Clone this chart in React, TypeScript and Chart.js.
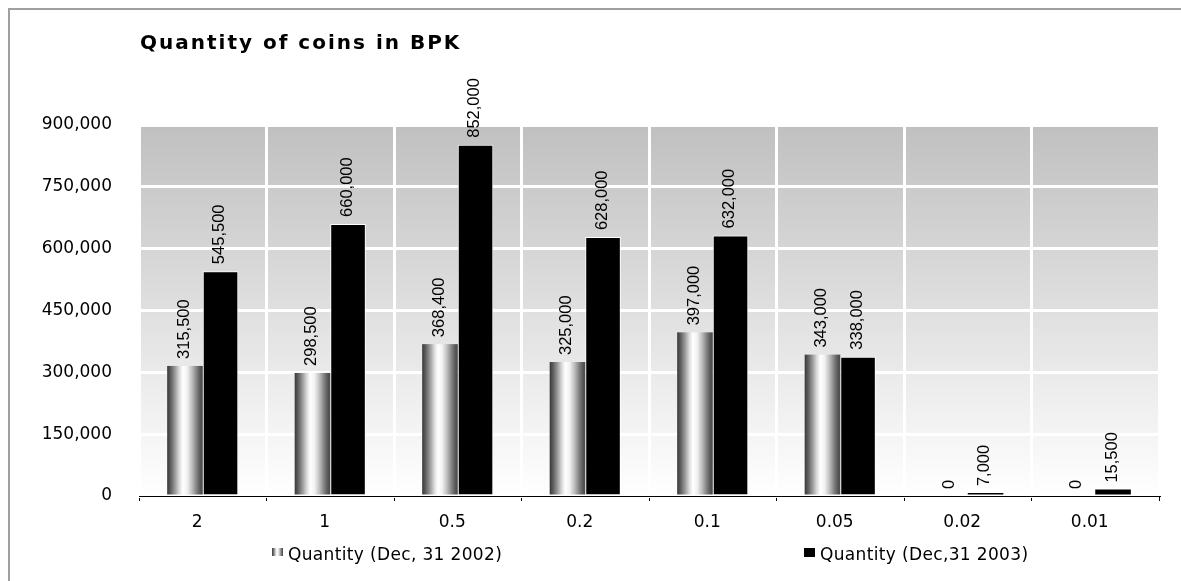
import React, { useEffect, useRef } from "react";
import { Chart, registerables } from "chart.js";

Chart.register(...registerables);

const titleText = "Quantity of coins in BPK";
const categories = ["2", "1", "0.5", "0.2", "0.1", "0.05", "0.02", "0.01"];
const qty2002 = [315500, 298500, 368400, 325000, 397000, 343000, 0, 0];
const qty2003 = [545500, 660000, 852000, 628000, 632000, 338000, 7000, 15500];
const seriesNames = ["Quantity (Dec, 31 2002)", "Quantity (Dec,31 2003)"];
const yMin = 0;
const yMax = 900000;
const yStep = 150000;

const FONT = '"DejaVu Sans", Verdana, sans-serif';
const fmt = (v: number) => Number(v).toLocaleString("en-US");

function cylinder(ctx: CanvasRenderingContext2D, x0: number, x1: number) {
  const g = ctx.createLinearGradient(x0, 0, x1, 0);
  g.addColorStop(0, "#383838");
  g.addColorStop(0.1, "#606060");
  g.addColorStop(0.22, "#9a9a9a");
  g.addColorStop(0.34, "#dadada");
  g.addColorStop(0.44, "#ffffff");
  g.addColorStop(0.56, "#f2f2f2");
  g.addColorStop(0.7, "#bdbdbd");
  g.addColorStop(0.84, "#7c7c7c");
  g.addColorStop(0.94, "#545454");
  g.addColorStop(1, "#4a4a4a");
  return g;
}

const customPlugin = {
  id: "customDraw",
  beforeDraw(chart: any) {
    const { ctx, chartArea: a } = chart;
    ctx.save();
    const g = ctx.createLinearGradient(0, a.top, 0, a.bottom);
    g.addColorStop(0, "#c0c0c0");
    g.addColorStop(1, "#ffffff");
    ctx.fillStyle = g;
    ctx.fillRect(a.left, a.top, a.right - a.left, a.bottom - a.top);
    ctx.restore();

    ctx.save();
    ctx.font = `bold 20px ${FONT}`;
    (ctx as any).letterSpacing = "2px";
    ctx.fillStyle = "#000";
    ctx.textAlign = "left";
    ctx.textBaseline = "alphabetic";
    ctx.fillText(titleText, a.left + 1, 39);
    ctx.restore();
  },
  beforeDatasetDraw(chart: any, args: any) {
    if (args.index !== 0) return;
    const { ctx } = chart;
    ctx.save();
    args.meta.data.forEach((el: any) => {
      const { x, y, base, width } = el.getProps(["x", "y", "base", "width"], true);
      const h = base - y;
      if (h <= 0) return;
      const x0 = x - width / 2;
      ctx.fillStyle = cylinder(ctx, x0, x0 + width);
      ctx.fillRect(x0, y, width, h);
    });
    ctx.restore();
    return false;
  },
  afterDatasetsDraw(chart: any) {
    const { ctx } = chart;
    ctx.save();
    ctx.font = `16.5px "Liberation Sans", Arial, sans-serif`;
    ctx.fillStyle = "#000";
    ctx.textAlign = "left";
    ctx.textBaseline = "middle";
    chart.data.datasets.forEach((ds: any, di: number) => {
      const meta = chart.getDatasetMeta(di);
      meta.data.forEach((el: any, i: number) => {
        const { x, y } = el.getProps(["x", "y"], true);
        ctx.save();
        ctx.translate(x - 1, y - 7);
        ctx.rotate(-Math.PI / 2);
        ctx.fillText(fmt(ds.data[i]), 0, 0);
        ctx.restore();
      });
    });
    ctx.restore();
  },
  afterDraw(chart: any) {
    const { ctx, chartArea: a } = chart;
    ctx.save();
    ctx.font = `17px ${FONT}`;
    (ctx as any).letterSpacing = "0.35px";
    ctx.fillStyle = "#000";
    ctx.textAlign = "left";
    ctx.textBaseline = "alphabetic";
    const baseY = 550;
    const items = [a.left + 133, a.left + 665];
    items.forEach((bx, i) => {
      if (i === 0) {
        ctx.fillStyle = cylinder(ctx, bx, bx + 11);
        ctx.fillRect(bx, baseY - 12, 11, 8);
      } else {
        ctx.fillStyle = "#000";
        ctx.fillRect(bx, baseY - 12, 11, 9);
      }
      ctx.fillStyle = "#000";
      ctx.fillText(seriesNames[i], bx + 16, baseY);
    });
    ctx.restore();
  },
};

export default function App() {
  const ref = useRef<HTMLCanvasElement>(null);
  useEffect(() => {
    const chart = new Chart(ref.current as HTMLCanvasElement, {
      type: "bar",
      data: {
        labels: categories,
        datasets: [
          {
            label: seriesNames[0],
            data: qty2002,
            backgroundColor: "#909090",
            barPercentage: 1,
            categoryPercentage: 0.558,
          },
          {
            label: seriesNames[1],
            data: qty2003,
            backgroundColor: "#000000",
            borderColor: "#ffffff",
            borderWidth: (c: any) => (c.raw !== undefined && c.raw < 50000 ? 0 : 1),
            barPercentage: 1,
            categoryPercentage: 0.558,
          },
        ],
      },
      options: {
        responsive: false,
        animation: false,
        layout: { padding: { left: 0, right: 22, top: 115, bottom: 0 } },
        plugins: {
          legend: { display: false },
          title: { display: false },
          tooltip: { enabled: false },
        },
        scales: {
          x: {
            grid: {
              color: "#ffffff",
              lineWidth: 3,
              tickColor: "#000000",
              tickWidth: 1,
              tickLength: 5,
              offset: true,
            },
            border: { display: true, color: "#000000", width: 1 },
            ticks: {
              font: { family: FONT, size: 17 },
              color: "#000",
              padding: 11,
              labelOffset: -5.5,
              maxRotation: 0,
            },
            afterFit: (s: any) => {
              s.height = 85;
            },
          },
          y: {
            min: yMin,
            max: yMax,
            ticks: {
              stepSize: yStep,
              font: { family: FONT, size: 17 },
              color: "#000",
              padding: 27,
              callback: (v: any) => fmt(v),
            },
            grid: { color: "#ffffff", lineWidth: 3, drawTicks: false },
            border: { display: false },
            afterFit: (s: any) => {
              s.width = 129;
            },
          },
        },
      },
      plugins: [customPlugin],
    });
    return () => chart.destroy();
  }, []);

  return (
    <div
      style={{
        position: "fixed",
        left: 8,
        top: 8,
        width: 1173,
        height: 573,
        borderTop: "2px solid #a0a0a0",
        borderLeft: "2px solid #a0a0a0",
        boxSizing: "border-box",
        overflow: "hidden",
      }}
    >
      <canvas ref={ref} width={1171} height={571} style={{ display: "block" }} />
    </div>
  );
}
